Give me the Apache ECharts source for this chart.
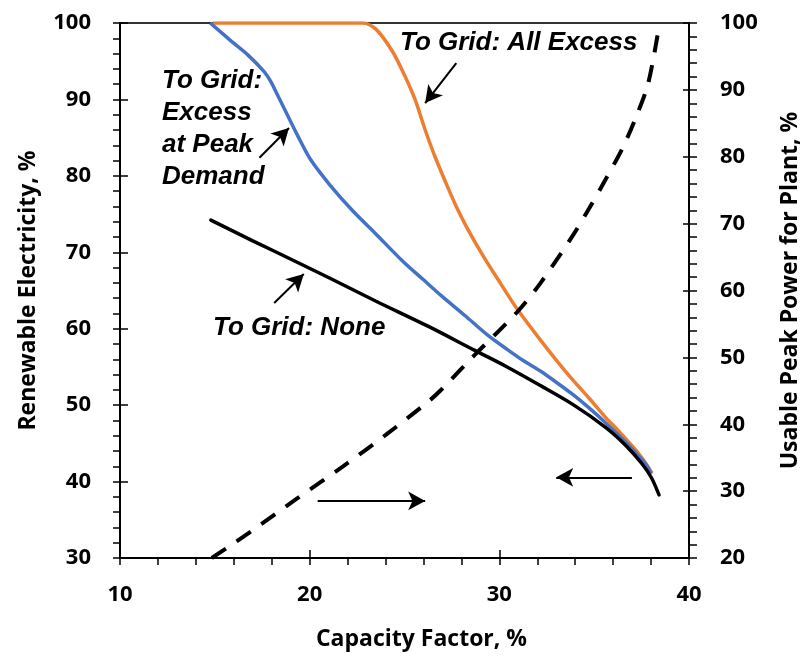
<!DOCTYPE html>
<html>
<head>
<meta charset="utf-8">
<title>Renewable electricity vs capacity factor</title>
<script src="https://cdn.jsdelivr.net/npm/echarts@6/dist/echarts.min.js"></script>
<style>
  html, body { margin: 0; padding: 0; background: #fff; }
  #chart { width: 810px; height: 656px; }
</style>
</head>
<body>
<div id="chart"></div>
<script>
// values
// To Grid: All Excess (left axis)
const allExcessCF = [14.9, 18, 21, 22.8, 23.49, 24.36, 25.05, 25.57, 26.09, 26.61, 27.3, 27.73, 28.34, 29.2, 30.07, 30.93, 32.14, 33.0, 33.87, 34.7, 35.6, 36.3, 36.81, 37.3, 37.67, 38.05];
const allExcessRE = [100, 100, 100, 100, 99.2, 96.3, 92.9, 89.9, 86.0, 82.5, 78.4, 76.0, 73.0, 69.3, 65.9, 62.6, 58.6, 55.9, 53.3, 51.0, 48.4, 46.6, 45.2, 43.8, 42.6, 41.1];
// To Grid: Excess at Peak Demand (left axis)
const peakCF = [14.76, 15.88, 16.75, 17.61, 17.96, 18.3, 18.82, 19.34, 20.03, 21.07, 22.28, 23.49, 24.88, 26.0, 26.95, 28.2, 29.37, 30.41, 31.28, 32.14, 33.0, 33.87, 34.7, 35.6, 36.64, 37.5, 37.85, 38.0];
const peakRE = [100, 97.6, 95.8, 93.6, 92.3, 90.6, 88.0, 85.4, 82.2, 78.8, 75.4, 72.4, 68.9, 66.4, 64.3, 61.7, 59.2, 57.3, 55.8, 54.5, 53.0, 51.4, 49.7, 47.7, 45.2, 42.9, 41.8, 41.0];
// To Grid: None (left axis)
const noneCF = [14.79, 17, 19.34, 21.07, 23.5, 26.26, 28.68, 30.41, 32.14, 33.87, 35.6, 36.64, 37.5, 38.02, 38.42];
const noneRE = [74.2, 71.5, 68.7, 66.6, 63.6, 60.3, 57.2, 55.0, 52.6, 50.1, 47.1, 44.8, 42.4, 40.5, 38.25];
// usable peak power for plant (right axis)
const usableCF = [14.84, 16.0, 16.92, 19.34, 21.76, 24.01, 26.26, 26.95, 28.68, 30.93, 32.14, 33.87, 34.74, 35.6, 36.46, 37.16, 37.85, 38.45];
const usablePower = [20, 22.2, 24.0, 28.9, 33.7, 38.4, 43.4, 45.2, 50.3, 56.75, 61.0, 68.2, 72.3, 76.6, 81.1, 85.6, 91.0, 100];

// annotation arrows, [fromCF, fromRE, toCF, toRE] on the left axis
const arrows = [
  [27.73, 94.75, 26.09, 89.53],
  [17.35, 82.36, 18.91, 86.27],
  [18.13, 63.37, 19.69, 67.15],
  [36.99, 40.55, 33.0, 40.55],
  [20.42, 37.47, 26.09, 37.47]
];

function pairs(xs, ys) {
  return xs.map((x, i) => [x, ys[i]]);
}

const axisFont = '"Open Sans", Lato, sans-serif';
const noteFont = '"Liberation Sans", Arial, sans-serif';

const chart = echarts.init(document.getElementById('chart'));

const majorTickInside = { show: true, inside: true, length: 8, lineStyle: { color: '#000', width: 1.5 } };

const option = {
  animation: false,
  grid: {
    left: 120, right: 112, top: 23, bottom: 96,
    show: true, borderColor: '#333', borderWidth: 2
  },
  xAxis: [
    {
      type: 'value', min: 10, max: 40, interval: 10,
      name: 'Capacity Factor, %', nameLocation: 'middle', nameGap: 70,
      nameTextStyle: { fontFamily: axisFont, fontWeight: 'bold', fontSize: 23, color: '#000', padding: [0, 0, 0, 34] },
      axisLine: { lineStyle: { color: '#000', width: 2 } },
      axisTick: { show: true, inside: false, length: 7, lineStyle: { color: '#000', width: 1.5 } },
      minorTick: { show: true, splitNumber: 5, length: 7, lineStyle: { color: '#000', width: 1.5 } },
      axisLabel: { fontFamily: axisFont, fontWeight: 'bold', fontSize: 22, color: '#000', margin: 26 },
      splitLine: { show: false }
    },
    {
      type: 'value', min: 10, max: 40, interval: 10, position: 'bottom',
      axisLine: { show: false }, axisTick: majorTickInside,
      axisLabel: { show: false }, splitLine: { show: false }
    }
  ],
  yAxis: [
    {
      type: 'value', min: 30, max: 100, interval: 10, position: 'left',
      name: 'Renewable Electricity, %', nameLocation: 'middle', nameGap: 80, nameRotate: 90,
      nameTextStyle: { fontFamily: axisFont, fontWeight: 'bold', fontSize: 23, color: '#000' },
      axisLine: { show: true, lineStyle: { color: '#000', width: 2 } },
      axisTick: { show: true, inside: false, length: 7, lineStyle: { color: '#000', width: 1.5 } },
      minorTick: { show: true, splitNumber: 5, length: 7, lineStyle: { color: '#000', width: 1.5 } },
      axisLabel: { fontFamily: axisFont, fontWeight: 'bold', fontSize: 22, color: '#000', margin: 29 },
      splitLine: { show: false }
    },
    {
      type: 'value', min: 20, max: 100, interval: 10, position: 'right',
      name: 'Usable Peak Power for Plant, %', nameLocation: 'middle', nameGap: 90, nameRotate: 90,
      nameTextStyle: { fontFamily: axisFont, fontWeight: 'bold', fontSize: 23, color: '#000' },
      axisLine: { show: true, lineStyle: { color: '#000', width: 2 } },
      axisTick: { show: true, inside: false, length: 8, lineStyle: { color: '#000', width: 1.5 } },
      minorTick: { show: true, splitNumber: 5, length: 8, lineStyle: { color: '#000', width: 1.5 } },
      axisLabel: { fontFamily: axisFont, fontWeight: 'bold', fontSize: 22, color: '#000', margin: 31 },
      splitLine: { show: false }
    },
    {
      type: 'value', min: 30, max: 100, interval: 10, position: 'left',
      axisLine: { show: false }, axisTick: majorTickInside,
      axisLabel: { show: false }, splitLine: { show: false }
    },
    {
      type: 'value', min: 20, max: 100, interval: 10, position: 'right',
      axisLine: { show: false }, axisTick: Object.assign({}, majorTickInside, { length: 6 }),
      axisLabel: { show: false }, splitLine: { show: false }
    }
  ],
  series: [
    {
      name: 'To Grid: All Excess', type: 'line', yAxisIndex: 0,
      data: pairs(allExcessCF, allExcessRE),
      smooth: 0.3, showSymbol: false,
      lineStyle: { color: '#ED7D31', width: 3.5 }
    },
    {
      name: 'To Grid: Excess at Peak Demand', type: 'line', yAxisIndex: 0,
      data: pairs(peakCF, peakRE),
      smooth: 0.3, showSymbol: false,
      lineStyle: { color: '#4472C4', width: 3.5 }
    },
    {
      name: 'To Grid: None', type: 'line', yAxisIndex: 0,
      data: pairs(noneCF, noneRE),
      smooth: 0.3, showSymbol: false,
      lineStyle: { color: '#000', width: 3.5, cap: 'round' },
      markLine: {
        silent: true,
        symbol: ['none', 'arrow'],
        symbolSize: [14, 17],
        label: { show: false },
        lineStyle: { color: '#000', width: 2, type: 'solid' },
        data: arrows.map(a => [{ coord: [a[0], a[1]] }, { coord: [a[2], a[3]] }])
      }
    },
    {
      name: 'Usable Peak Power', type: 'line', yAxisIndex: 1,
      data: pairs(usableCF, usablePower),
      smooth: 0.3, showSymbol: false,
      lineStyle: { color: '#000', width: 4, type: [17, 13] }
    }
  ],
  graphic: [
    {
      type: 'text', x: 400, y: 42.5, silent: true,
      style: { text: 'To Grid: All Excess', fontFamily: noteFont, fontWeight: 'bold', fontStyle: 'italic', fontSize: 26, fill: '#000', verticalAlign: 'middle' }
    },
    {
      type: 'text', x: 162, y: 65, silent: true,
      style: { text: 'To Grid:\nExcess\nat Peak\nDemand', fontFamily: noteFont, fontWeight: 'bold', fontStyle: 'italic', fontSize: 26, lineHeight: 32, fill: '#000', verticalAlign: 'top' }
    },
    {
      type: 'text', x: 213, y: 328, silent: true,
      style: { text: 'To Grid: None', fontFamily: noteFont, fontWeight: 'bold', fontStyle: 'italic', fontSize: 26, fill: '#000', verticalAlign: 'middle' }
    }
  ]
};

chart.setOption(option);
</script>
</body>
</html>
